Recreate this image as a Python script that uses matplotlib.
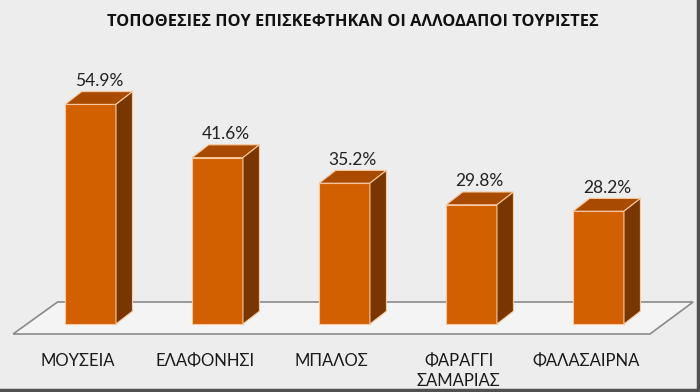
import matplotlib
matplotlib.use("Agg")
import matplotlib.pyplot as plt
from matplotlib.patches import Polygon
import numpy as np

# data
categories = ["ΜΟΥΣΕΙΑ", "ΕΛΑΦΟΝΗΣΙ", "ΜΠΑΛΟΣ", "ΦΑΡΑΓΓΙ\nΣΑΜΑΡΙΑΣ", "ΦΑΛΑΣΑΙΡΝΑ"]
values = [54.9, 41.6, 35.2, 29.8, 28.2]
value_labels = ["54.9%", "41.6%", "35.2%", "29.8%", "28.2%"]
title = "ΤΟΠΟΘΕΣΙΕΣ ΠΟΥ ΕΠΙΣΚΕΦΤΗΚΑΝ ΟΙ ΑΛΛΟΔΑΠΟΙ ΤΟΥΡΙΣΤΕΣ"

bg = "#ededed"
c_front = "#d25f00"
c_top = "#a84b00"
c_side = "#7a3600"
c_edge = "#f7c9a0"

plt.rcParams["font.family"] = ["Lato", "DejaVu Sans"]

fig = plt.figure(figsize=(7.0, 3.92), dpi=100, facecolor=bg)
ax = fig.add_axes([0, 0, 1, 1])
ax.set_facecolor(bg)
ax.set_xlim(-0.713, 4.799)
ax.set_ylim(-17, 81)
ax.axis("off")

x = np.arange(len(values))
w = 0.40
dx = 0.13   # depth in x (category units)
dy = 3.2    # depth in y (value units)

# floor
floor = Polygon([(-0.61, -2.5), (-0.26, 5.5), (4.745, 5.5), (4.405, -2.5)],
                closed=True, facecolor="#f4f4f4", edgecolor="#8a8a8a", lw=1.2, zorder=1)
ax.add_patch(floor)

# front faces
ax.bar(x, values, width=w, color=c_front, edgecolor=c_edge, linewidth=0.8, zorder=3)

for xi, v, lab in zip(x, values, value_labels):
    l, r = xi - w / 2, xi + w / 2
    top = Polygon([(l, v), (l + dx, v + dy), (r + dx, v + dy), (r, v)],
                  closed=True, facecolor=c_top, edgecolor=c_edge, lw=0.8, zorder=3)
    side = Polygon([(r, 0), (r, v), (r + dx, v + dy), (r + dx, dy)],
                   closed=True, facecolor=c_side, edgecolor=c_edge, lw=0.8, zorder=3)
    ax.add_patch(top)
    ax.add_patch(side)
    ax.text(xi + dx / 2, v + dy + 0.7, lab, ha="center", va="bottom",
            fontsize=12.5, color="#222222", zorder=4)

for xi, cat in zip(x, categories):
    ax.text(xi - 0.1, -7.2, cat, ha="center", va="top", fontsize=12,
            color="#1a1a1a", linespacing=1.3, zorder=4)

fig.text(0.504, 0.943, title, ha="center", va="center", fontsize=11.8,
         fontweight="bold", color="#111111",
         family=["Open Sans", "DejaVu Sans"])

# dark frame on right and bottom
ax.plot([0.997, 0.997], [0, 1], transform=ax.transAxes, color="#505050", lw=2.5, zorder=5)
ax.plot([0, 1], [0.004, 0.004], transform=ax.transAxes, color="#505050", lw=2.5, zorder=5)

fig.savefig("out.png", dpi=100, facecolor=bg)
